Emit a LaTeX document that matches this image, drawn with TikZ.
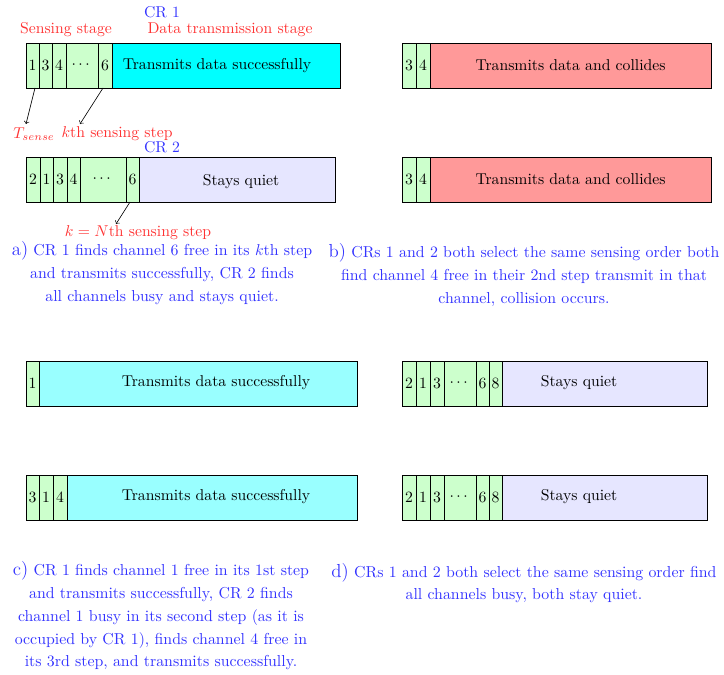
\documentclass[tikz,border=0pt]{standalone}
\usepackage{amsmath,amssymb}
\usepackage{tikz}
\usetikzlibrary{positioning,calc}
\definecolor{slotg}{RGB}{204,255,204}
\definecolor{okcyan}{RGB}{0,255,255}
\definecolor{okcyanl}{RGB}{153,255,255}
\definecolor{badred}{RGB}{255,153,153}
\definecolor{quietb}{RGB}{230,230,255}
\definecolor{txred}{RGB}{255,51,51}
\definecolor{txblue}{RGB}{51,51,255}
\tikzset{
  slot/.style={draw=black,fill=slotg},
  okdata/.style={draw=black,fill=okcyan},
  okdatal/.style={draw=black,fill=okcyanl},
  bad/.style={draw=black,fill=badred},
  quiet/.style={draw=black,fill=quietb},
  lbl/.style={text=txred,inner sep=1pt},
  crname/.style={text=txblue,inner sep=1pt},
  capt/.style={text=txblue,align=center,font=\fontsize{10.1}{14.5}\selectfont}
}
\begin{document}
\begin{tikzpicture}[x=0.637pt,y=-0.637pt]
\useasboundingbox (0,0) rectangle (724,675);
% ---- a) CR 1
\node[crname](cr1) at (162,12){CR 1};
\node[lbl](sens) at (66,30){Sensing stage};
\node[lbl](dts) at (230,30){Data transmission stage};
\draw[slot](26,43)rectangle(39,88)node[midway](a1){1};
\draw[slot](39,43)rectangle(52,88)node[midway](a3){3};
\draw[slot](52,43)rectangle(66,88)node[midway](a4){4};
\draw[slot](66,43)rectangle(98,88)node[midway](ad){$\cdots$};
\draw[slot](98,43)rectangle(112,88)node[midway](a6){6};
\draw[okdata](112,43)rectangle(340,88);
\node(atx) at (217,66){Transmits data successfully};
\node[lbl](tsense) at (34,134){$T_{sense}$};
\node[lbl](kth) at (117,134){$k$th sensing step};
\coordinate(p1) at (35,88);
\coordinate(p2) at (103,88);
\draw[->](p1)--(26,124);
\draw[->](p2)--(80,124);
% ---- a) CR 2
\node[crname](cr2) at (162,147){CR 2};
\draw[slot](26,157)rectangle(40,202)node[midway](b2){2};
\draw[slot](40,157)rectangle(53,202)node[midway](b1){1};
\draw[slot](53,157)rectangle(67,202)node[midway](b3){3};
\draw[slot](67,157)rectangle(80,202)node[midway](b4){4};
\draw[slot](80,157)rectangle(126,202)node[midway](bd){$\cdots$};
\draw[slot](126,157)rectangle(139,202)node[midway](b6){6};
\draw[quiet](139,157)rectangle(335,202);
\node(bq) at (241,182){Stays quiet};
\node[lbl](kn) at (138,233){$k=N$th sensing step};
\coordinate(p3) at (130,202);
\draw[->](p3)--(116,224);
\node[capt](capa) at (162,273){{\large a)} CR 1 finds channel 6 free in its $k$th step\\
and transmits successfully, CR 2 finds\\ all channels busy and stays quiet.};
% ---- b)
\draw[slot](402,43)rectangle(416,88)node[midway](c3){3};
\draw[slot](416,43)rectangle(430,88)node[midway](c4){4};
\draw[bad](430,43)rectangle(711,88)node[midway](cx){Transmits data and collides};
\draw[slot](402,157)rectangle(416,202)node[midway](d3){3};
\draw[slot](416,157)rectangle(430,202)node[midway](d4){4};
\draw[bad](430,157)rectangle(711,202)node[midway](dx){Transmits data and collides};
\node[capt](capb) at (524,275){{\large b)} CRs 1 and 2 both select the same sensing order both\\
find channel 4 free in their 2nd step transmit in that\\ channel, collision occurs.};
% ---- c)
\draw[slot](26,361)rectangle(39,406)node[midway](e1){1};
\draw[okdatal](39,361)rectangle(357,406);
\node(etx) at (216,383){Transmits data successfully};
\draw[slot](26,475)rectangle(39,520)node[midway](f3){3};
\draw[slot](39,475)rectangle(53,520)node[midway](f1){1};
\draw[slot](53,475)rectangle(67,520)node[midway](f4){4};
\draw[okdatal](67,475)rectangle(357,520);
\node(ftx) at (216,497){Transmits data successfully};
\node[capt](capc) at (161,616){{\large c)} CR 1 finds channel 1 free in its 1st step\\
and transmits successfully, CR 2 finds\\ channel 1 busy in its second step (as it is\\
occupied by CR 1), finds channel 4 free in\\ its 3rd step, and transmits successfully.};
% ---- d)
\draw[slot](402,361)rectangle(416,406)node[midway](g2){2};
\draw[slot](416,361)rectangle(430,406)node[midway](g1){1};
\draw[slot](430,361)rectangle(444,406)node[midway](g3){3};
\draw[slot](444,361)rectangle(476,406)node[midway](gd){$\cdots$};
\draw[slot](476,361)rectangle(489,406)node[midway](g6){6};
\draw[slot](489,361)rectangle(502,406)node[midway](g8){8};
\draw[quiet](502,361)rectangle(707,406);
\node(gq) at (579,383){Stays quiet};
\draw[slot](402,475)rectangle(416,520)node[midway](h2){2};
\draw[slot](416,475)rectangle(430,520)node[midway](h1){1};
\draw[slot](430,475)rectangle(444,520)node[midway](h3){3};
\draw[slot](444,475)rectangle(476,520)node[midway](hd){$\cdots$};
\draw[slot](476,475)rectangle(489,520)node[midway](h6){6};
\draw[slot](489,475)rectangle(502,520)node[midway](h8){8};
\draw[quiet](502,475)rectangle(707,520);
\node(hq) at (579,497){Stays quiet};
\node[capt](capd) at (524,583){{\large d)} CRs 1 and 2 both select the same sensing order find\\
all channels busy, both stay quiet.};
\end{tikzpicture}
\end{document}
